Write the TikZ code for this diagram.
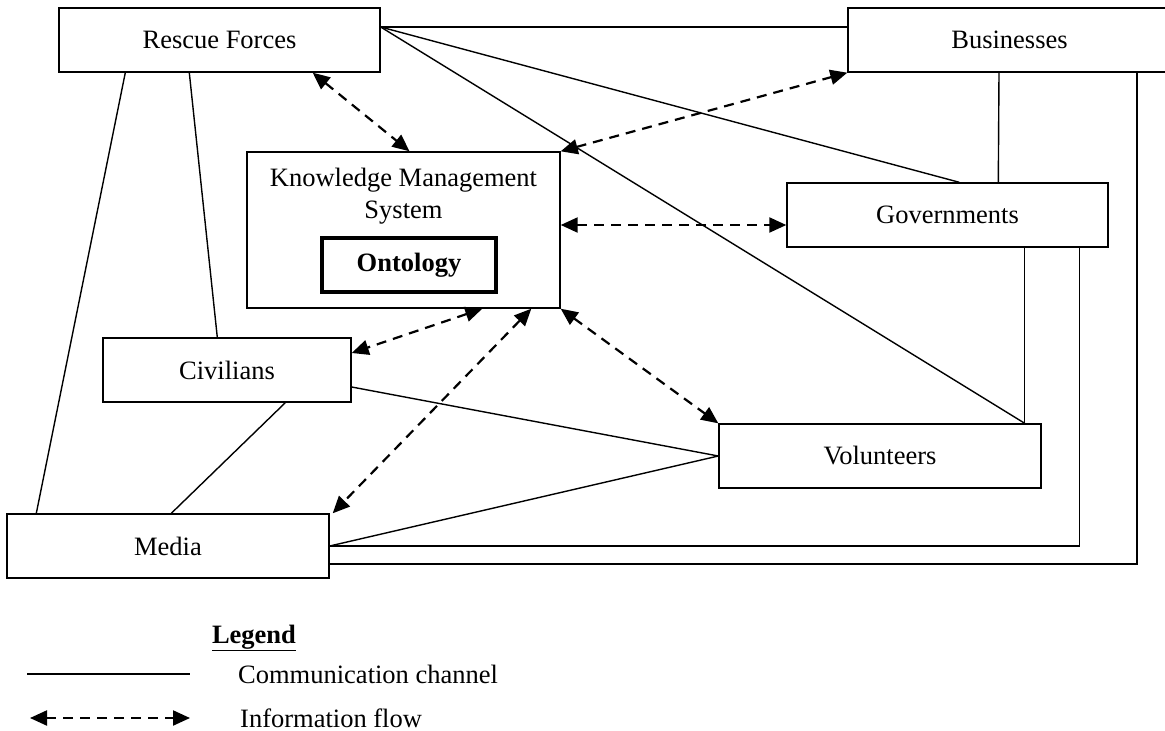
\documentclass[tikz,border=0pt]{standalone}
\usepackage{fontspec}
\setmainfont{Liberation Serif}
\usepackage{tikz}
\usetikzlibrary{arrows.meta, positioning}
\newcommand{\lblfont}{\fontsize{26.5}{32}\selectfont}
\tikzset{
  actor/.style  = {rectangle, draw, line width=1.4pt, inner sep=0pt,
                   align=center, font=\lblfont},
  core/.style   = {rectangle, draw, line width=3.4pt, inner sep=0pt,
                   align=center, font=\lblfont\bfseries},
  chan/.style   = {line width=1.4pt},
  info/.style   = {{Triangle[length=17pt,width=15pt]}-{Triangle[length=17pt,width=15pt]},
                   line width=2.2pt, dash pattern=on 10pt off 7pt},
  txt/.style    = {inner sep=0pt, align=center, font=\lblfont},
}

\begin{document}
\begin{tikzpicture}[x=1pt, y=-1pt]
  \useasboundingbox (0,0) rectangle (1165,731);

  \node[actor, minimum width=321pt, minimum height=64pt] (rescue) at (219.5,40) {Rescue Forces};
  \node[actor, minimum width=323pt, minimum height=64pt] (biz) at (1009.5,40) {Businesses};
  \node[actor, minimum width=313pt, minimum height=156pt] (kms) at (403.5,230) {};
  \node[txt] (kmstext) at (403.5,196) {Knowledge Management\\System};
  \node[core, minimum width=174pt, minimum height=54pt] (onto) at (409,265) {Ontology};
  \node[actor, minimum width=321pt, minimum height=64pt] (gov) at (947.5,215) {Governments};
  \node[actor, minimum width=248pt, minimum height=64pt] (civ) at (227,370) {Civilians};
  \node[actor, minimum width=322pt, minimum height=64pt] (media) at (168,546) {Media};
  \node[actor, minimum width=322pt, minimum height=64pt] (vol) at (880,456) {Volunteers};

  \draw[chan] ([xshift=67pt]rescue.south west) -- ([xshift=30pt]media.north west);
  \draw[chan] ([xshift=131pt]rescue.south west) -- ([xshift=115pt]civ.north west);
  \draw[chan] ([yshift=13pt]rescue.east) -- ([yshift=13pt]biz.west);
  \draw[chan] ([yshift=13pt]rescue.east) -- ([xshift=173pt]gov.north west);
  \draw[chan] ([yshift=13pt]rescue.east) -- ([xshift=-17pt]vol.north east);
  \draw[chan] ([xshift=-10.5pt]biz.south) -- ([xshift=212pt]gov.north west);
  \draw[chan] ([xshift=127.5pt]biz.south) |- ([yshift=-18pt]media.east);
  \draw[chan] ([xshift=-29pt]gov.south east) |- (media.east);
  \draw[chan] ([xshift=-84pt]gov.south east) -- ([xshift=-17pt]vol.north east);
  \draw[chan] ([yshift=-17pt]civ.east) -- (vol.west);
  \draw[chan] (media.east) -- (vol.west);
  \draw[chan] ([xshift=183pt]civ.south west) -- ([xshift=165pt]media.north west);

  \draw[info] ([xshift=-68pt]rescue.south east) -- ([xshift=6pt]kms.north);
  \draw[info] (kms.north east) -- (biz.south west);
  \draw[info] ([yshift=5pt]kms.east) -- ([yshift=-10pt]gov.west);
  \draw[info] ([xshift=236pt]kms.south west) -- ([yshift=17pt]civ.east);
  \draw[info] ([xshift=285pt]kms.south west) -- ([xshift=3pt]media.north east);
  \draw[info] (kms.south east) -- (vol.north west);

  \node[txt] (legend) at (254,638) {\underline{\textbf{Legend}}};
  \coordinate (chanA) at (27,674);
  \coordinate (chanB) at (190,674);
  \coordinate (infoA) at (30,718);
  \coordinate (infoB) at (190,718);
  \draw[chan] (chanA) -- (chanB);
  \draw[info] (infoA) -- (infoB);
  \node[txt, anchor=west] (chantext) at (238,674) {Communication channel};
  \node[txt, anchor=west] (infotext) at (240,718) {Information flow};
\end{tikzpicture}
\end{document}
